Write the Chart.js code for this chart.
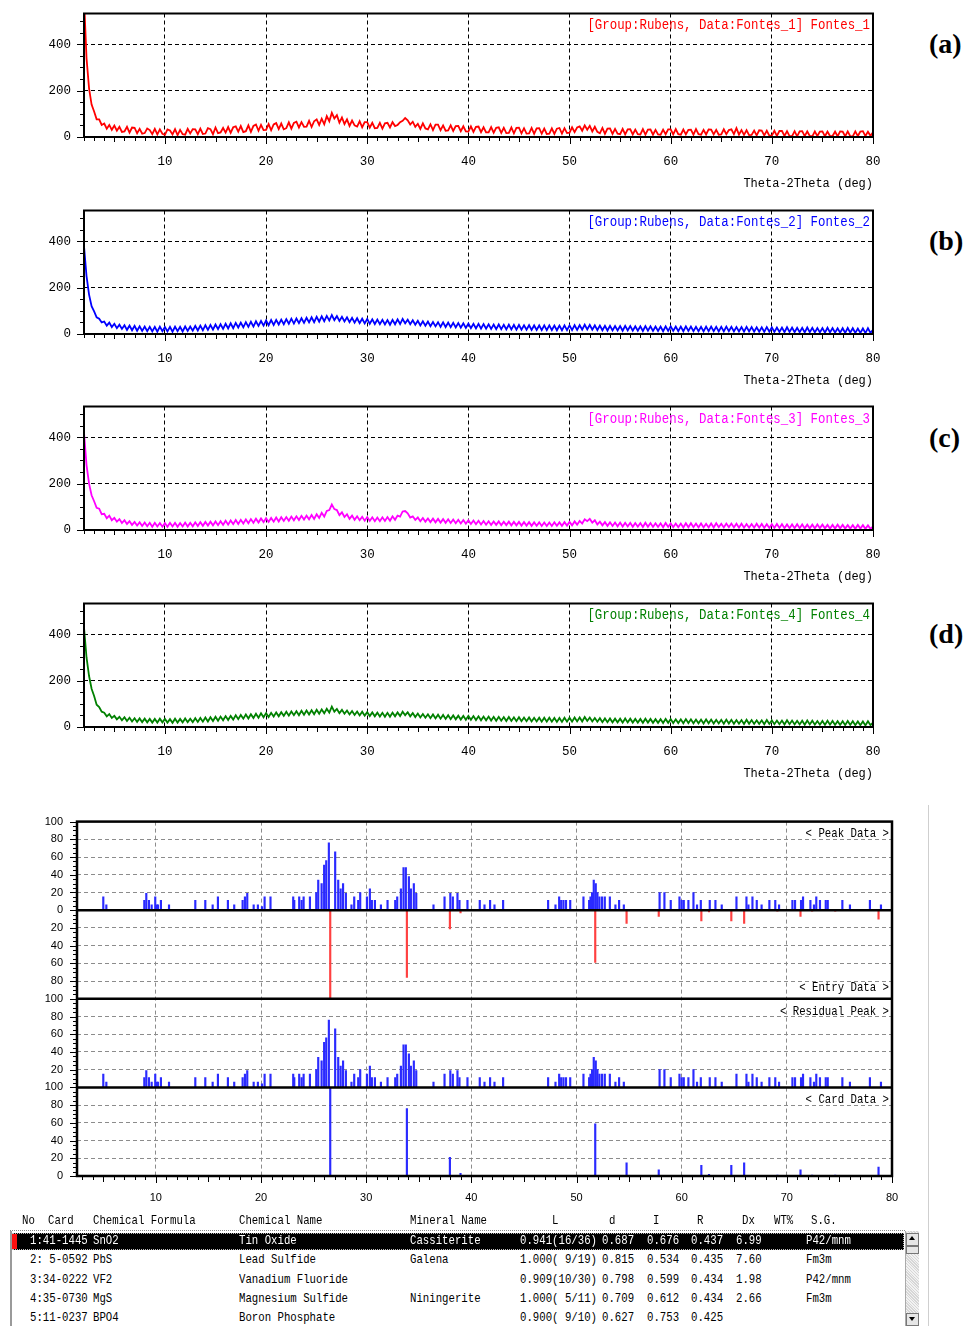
<!DOCTYPE html>
<html><head><meta charset="utf-8">
<script src="https://cdn.jsdelivr.net/npm/chart.js"></script>
<style>
html,body{margin:0;padding:0;background:#fff;}
#root{position:relative;width:966px;height:1326px;overflow:hidden;background:#fff;}
canvas{position:absolute;left:0;}
.lg{position:absolute;right:96px;font:12.4px "Liberation Mono",monospace;white-space:pre;line-height:14px;transform:scaleY(1.15);transform-origin:0 50%;}
.pl{position:absolute;left:929px;font:bold 28px "Liberation Serif",serif;line-height:32px;color:#000;}
.sl{position:absolute;right:77px;font:10.7px "Liberation Mono",monospace;white-space:pre;line-height:13px;color:#000;transform:scaleY(1.2);transform-origin:0 50%;}
.t{position:absolute;font:10.7px "Liberation Mono",monospace;white-space:pre;line-height:13px;color:#000;transform:scaleY(1.25);transform-origin:0 0;}
</style></head>
<body><div id="root">
<canvas id="pa" width="900" height="202" style="top:-7px"></canvas>
<canvas id="pb" width="900" height="202" style="top:190px"></canvas>
<canvas id="pc" width="900" height="202" style="top:386px"></canvas>
<canvas id="pd" width="900" height="202" style="top:583px"></canvas>
<canvas id="ps" width="930" height="414" style="top:801px"></canvas>
</div>
<script>
// ---------------- DATA ----------------
const xStart = 2, xStep = 0.25; // sampling grid of the scans (deg)
const seriesA = [
600,340,210,140, 110,76,76,52, 58,36,52,31, 49,27,44,22, 24,44,19,41, 40,16,35,14, 17,37,30,12, 35,11,33,14,
9,33,28,11, 34,8,31,12, 10,35,15,34, 33,12,36,13, 15,38,34,12, 41,17,20,39, 19,43,18,42, 46,23,47,21,
25,50,22,48, 54,27,52,30, 31,56,29,54, 60,34,58,33, 38,63,36,61, 66,41,64,44, 45,70,43,68, 76,52,79,55,
90,68,104,80, 94,62,84,56, 76,48,71,50, 45,68,42,64, 64,40,61,38, 39,61,36,59, 61,41,64,47, 52,64,70,82,
72,54,66,44, 57,35,59,37, 33,55,30,53, 53,29,50,27, 28,50,26,47, 48,25,46,24, 23,46,22,44, 45,21,42,20,
20,43,19,40, 42,18,40,17, 18,41,16,39, 40,16,38,15, 16,39,14,37, 38,14,36,13, 14,37,13,36, 39,15,38,17,
19,42,21,41, 46,27,50,31, 48,24,44,22, 16,39,14,36, 37,13,35,14, 12,35,11,33, 34,11,32,12, 11,34,10,32,
33,10,31,11, 10,32,12,33, 33,11,34,12, 10,32,11,31, 32,10,34,12, 10,31,11,33, 32,11,31,10, 11,33,12,30,
33,12,38,10, 30,9,29,8, 9,28,7,29, 28,7,27,6, 6,27,5,26, 26,5,25,4, 4,25,3,24, 25,4,24,5,
3,24,4,23, 24,3,23,4, 4,23,3,24, 23,3,24,4, 3,24,4,23, 25,4,23,5, 20];
const seriesB = [
380,250,170,120, 98,72,66,50, 54,36,49,30, 44,25,40,22, 38,18,36,16, 35,14,33,13, 32,12,31,11, 31,10,32,12,
30,11,31,10, 32,12,31,11, 33,13,32,14, 35,15,36,16, 38,18,39,19, 41,21,42,22, 44,24,46,25, 48,28,49,29,
51,31,53,32, 55,35,56,36, 58,38,60,39, 61,41,62,42, 64,44,66,45, 67,47,68,48, 70,50,72,51, 74,53,76,55,
78,58,82,60, 77,56,74,54, 72,51,70,49, 68,47,66,46, 65,44,63,43, 62,42,61,41, 60,40,61,42, 63,43,65,46,
62,42,59,40, 57,37,55,36, 54,34,52,33, 51,31,50,30, 49,29,48,28, 47,27,46,26, 45,25,44,24, 44,23,43,23,
42,22,41,21, 41,21,40,20, 40,20,39,19, 39,19,38,19, 38,18,37,18, 37,17,37,17, 37,17,36,16, 36,16,37,17,
37,17,38,18, 38,19,40,20, 39,19,37,17, 36,16,35,15, 35,15,34,15, 34,14,35,15, 34,14,33,14, 33,13,34,14,
33,13,32,13, 32,12,33,13, 33,13,32,12, 32,12,33,13, 32,12,31,12, 31,11,32,12, 32,12,31,11, 31,11,32,12,
31,11,30,11, 30,10,31,11, 30,10,29,10, 29,9,30,10, 29,9,28,9, 28,8,29,9, 28,8,27,8, 27,7,28,8,
27,7,26,7, 26,6,27,7, 26,6,25,6, 25,5,26,6, 25,5,24,5, 24,4,25,5, 18];
const seriesC = [
420,280,200,150, 124,96,92,68, 70,51,62,42, 52,36,47,30, 42,26,38,22, 35,19,33,17, 32,16,31,14, 31,15,30,14,
30,14,31,15, 31,14,30,15, 32,15,31,16, 33,17,34,18, 35,19,36,20, 37,21,38,22, 40,23,41,25, 43,26,44,28,
46,29,47,31, 49,32,50,34, 51,35,52,36, 54,37,55,39, 56,40,58,42, 59,43,61,45, 62,46,65,48, 68,52,74,58,
82,86,110,90, 86,64,76,56, 68,48,62,44, 59,42,57,40, 56,39,55,38, 54,38,55,39, 56,40,59,44, 62,58,80,82,
72,54,59,44, 54,38,52,36, 50,34,49,33, 48,32,47,31, 46,30,45,29, 44,28,43,27, 42,26,41,25, 40,24,39,23,
38,22,37,22, 37,21,36,21, 36,20,35,20, 35,19,34,19, 34,18,33,18, 33,17,32,17, 32,17,33,18, 33,18,34,19,
35,20,37,23, 39,28,46,38, 48,32,42,24, 36,20,34,18, 33,17,32,16, 32,15,31,15, 31,14,30,14, 30,13,31,14,
30,13,29,13, 29,12,30,13, 29,12,28,12, 28,11,29,12, 29,12,28,11, 28,11,27,11, 28,11,29,12, 27,11,28,12,
28,11,27,10, 27,10,26,10, 26,10,27,10, 26,9,25,9, 25,9,26,9, 25,8,24,8, 24,8,25,8, 24,7,23,7,
23,7,24,8, 23,7,22,6, 22,6,23,7, 22,6,21,6, 21,5,22,6, 21,5,20,5, 15];
const seriesD = [
430,300,220,165, 134,96,86,66, 62,46,56,39, 48,33,44,29, 42,26,40,24, 38,22,37,21, 36,20,35,19, 35,19,36,20,
35,19,34,18, 36,19,35,20, 37,21,36,21, 38,22,39,23, 41,24,42,26, 44,27,45,29, 47,30,48,32, 51,34,52,36,
54,37,55,39, 57,40,59,42, 60,43,61,45, 63,46,64,48, 66,49,67,51, 68,51,70,53, 71,54,72,55, 74,57,76,59,
79,62,88,66, 78,60,74,57, 71,54,69,52, 67,50,66,49, 64,47,63,46, 62,45,61,44, 61,44,62,46, 63,47,66,51,
64,46,60,43, 58,41,56,40, 55,38,54,37, 53,36,52,35, 51,34,50,33, 49,32,48,31, 48,31,47,30, 46,29,45,29,
45,28,44,27, 44,27,43,26, 43,26,42,25, 42,25,41,25, 41,24,40,24, 40,23,40,23, 40,23,39,22, 39,22,40,23,
40,23,41,24, 41,24,43,26, 41,24,39,23, 38,21,37,21, 37,20,36,20, 36,19,37,20, 36,19,35,19, 35,18,36,19,
35,18,34,18, 34,17,35,18, 34,17,33,17, 33,16,34,17, 33,16,32,16, 32,15,33,16, 32,15,31,15, 31,14,32,15,
31,14,30,14, 30,13,31,14, 30,13,29,13, 29,12,30,13, 29,12,28,12, 28,11,29,12, 28,11,27,11, 27,10,28,11,
27,10,26,10, 26,9,27,10, 26,9,25,9, 25,8,26,9, 25,8,24,8, 24,7,25,8, 19];

const legendTexts = ['[Group:Rubens, Data:Fontes_1] Fontes_1','[Group:Rubens, Data:Fontes_2] Fontes_2',
                     '[Group:Rubens, Data:Fontes_3] Fontes_3','[Group:Rubens, Data:Fontes_4] Fontes_4'];
const panelLetters = ['(a)','(b)','(c)','(d)'];
const xAxisTitle = 'Theta-2Theta (deg)';

// stick pattern: peak data (2theta, relative intensity)
const peakPos = [
5.0,5.29,8.9,9.09,9.34,9.6,9.94,10.1,10.2,10.48,11.25,
13.75,14.7,15.4,15.9,16.85,17.45,18.25,18.47,18.69,19.3,19.7,
20.09,20.34,20.9,
23.06,23.16,23.63,23.86,24.05,24.65,
25.25,25.44,25.76,26.0,26.2,26.45,27.05,
27.34,27.57,27.8,28.07,28.6,28.86,29.24,29.43,
30.07,30.35,30.54,30.83,31.4,
32.03,32.76,32.95,33.3,33.55,33.77,34.06,34.25,34.53,34.76,
36.4,37.45,38.0,38.24,38.68,38.87,39.63,
40.8,41.25,41.78,42.2,43.02,
47.3,48.0,48.35,48.54,48.76,49.0,49.4,
50.66,51.2,51.33,51.48,51.64,51.83,51.99,52.18,52.43,52.69,53.17,53.7,54.05,54.5,
57.9,58.36,58.96,59.79,60.0,60.2,60.64,61.12,61.46,61.82,
62.67,63.21,63.81,
65.21,66.16,66.35,66.73,67.14,67.6,
68.34,68.9,69.26,
70.53,70.78,71.35,71.54,72.24,72.58,72.8,73.15,73.7,73.89,
75.28,76.0,77.9,78.95];
const peakInt = [
15,6,11,19,11,6,15,6,6,11,6,
11,11,6,15,11,6,11,15,19,6,6,
4,15,15,
15,11,15,11,15,15,
20,34,30,51,56,76,66,
34,24,30,19,6,15,11,20,
15,24,11,11,6,
11,11,15,24,48,48,38,24,30,19,
6,15,19,15,19,11,11,
11,6,11,6,11,
11,6,15,11,11,11,11,
15,11,15,20,34,30,20,15,15,15,15,6,11,6,
20,20,11,15,11,11,11,20,6,11,
11,11,6,
15,15,6,15,11,6,
11,11,6,
11,11,11,15,11,6,15,11,11,11,
11,6,11,6];
const residualPos = peakPos.slice();
const residualInt = peakInt.slice();
// card 41-1445 (SnO2) lines
const cardPos = [26.58,33.87,37.96,38.97,51.78,54.76,57.82,61.87,62.6,64.72,65.94,69.1,71.3,72.4,74.6,78.72];
const cardInt = [100,76,21,3,59,15,7,12,2,12,15,1,7,1,1,10];
const stickTags = ['< Peak Data >','< Entry Data >','< Residual Peak >','< Card Data >'];

// table
const tableHead = ['No','Card','Chemical Formula','Chemical Name','Mineral Name','L','d','I','R','Dx','WT%','S.G.'];
const rowCard = ['1:41-1445','2: 5-0592','3:34-0222','4:35-0730','5:11-0237'];
const rowFormula = ['SnO2','PbS','VF2','MgS','BPO4'];
const rowName = ['Tin Oxide','Lead Sulfide','Vanadium Fluoride','Magnesium Sulfide','Boron Phosphate'];
const rowMineral = ['Cassiterite','Galena','','Niningerite',''];
const rowL = ['0.941(16/36)','1.000( 9/19)','0.909(10/30)','1.000( 5/11)','0.900( 9/10)'];
const rowD = ['0.687','0.815','0.798','0.709','0.627'];
const rowI = ['0.676','0.534','0.599','0.612','0.753'];
const rowR = ['0.437','0.435','0.434','0.434','0.425'];
const rowDx = ['6.99','7.60','1.98','2.66',''];
const rowWT = ['','','','',''];
const rowSG = ['P42/mnm','Fm3m','P42/mnm','Fm3m',''];

// ---------------- DRAWING ----------------
const root = document.getElementById('root');
function addDiv(cls, text, css){ const d=document.createElement('div'); if(cls) d.className=cls; d.textContent=text; Object.assign(d.style, css); root.appendChild(d); return d; }

const axisTicks = {
  id:'axisTicks',
  afterDraw(chart, args, o){
    const {ctx, chartArea:a, scales:{x,y}} = chart;
    ctx.save();
    ctx.strokeStyle='#000'; ctx.lineWidth=1;
    ctx.beginPath();
    for(let v=Math.ceil(x.min); v<=x.max; v++){
      const px=Math.round(x.getPixelForValue(v))+0.5;
      const len = v%10===0?o.xMajor:(v%5===0?o.xMid:o.xMinor);
      ctx.moveTo(px,a.bottom); ctx.lineTo(px,a.bottom+len);
    }
    for(let v=0; v<=y.max+1e-9; v+=o.yStep){
      const py=Math.round(y.getPixelForValue(v))+0.5;
      const len = (v % o.yMajorEvery===0)?o.yMajor:o.yMinor;
      ctx.moveTo(a.left-len,py); ctx.lineTo(a.left,py);
    }
    ctx.stroke();
    ctx.lineWidth=o.frame;
    ctx.strokeRect(a.left,a.top,a.right-a.left,a.bottom-a.top);
    if(o.dividers){
      ctx.beginPath();
      o.dividers.forEach(v=>{const py=y.getPixelForValue(v); ctx.moveTo(a.left,py); ctx.lineTo(a.right,py);});
      ctx.stroke();
    }
    ctx.restore();
  }
};

const monoTick = {family:'Liberation Mono', size:12.5};
function makeLine(id, ys, color){
  const pts = ys.map((v,i)=>({x: xStart+i*xStep, y:v}));
  new Chart(document.getElementById(id), {
    type:'line',
    data:{datasets:[{data:pts, borderColor:color, borderWidth:1.8, pointRadius:0, tension:0, fill:false}]},
    options:{
      responsive:false, animation:false, events:[],
      layout:{padding:{left:0,right:27,top:0,bottom:0}},
      plugins:{legend:{display:false}, tooltip:{enabled:false},
        axisTicks:{xMinor:4,xMid:5,xMajor:7,yStep:50,yMajorEvery:200,yMinor:4,yMajor:7,frame:2}},
      scales:{
        x:{type:'linear', min:2, max:80, afterFit(s){s.height=58;},
           ticks:{stepSize:1, autoSkip:false, maxRotation:0, minRotation:0, padding:17, color:'#000', font:monoTick,
                  callback:v=>(v%10===0&&v>2)?String(v):''},
           grid:{drawTicks:false, lineWidth:1,
                 color:c=>{const v=c.tick?c.tick.value:NaN; return (v%10===0&&v>2&&v<80)?'#000':'rgba(0,0,0,0)';}},
           border:{display:false, dash:[4,3]},
           title:{display:true, text:xAxisTitle, align:'end', color:'#000', font:{family:'Liberation Mono', size:12}, padding:{top:0,bottom:4}}},
        y:{type:'linear', min:0, max:533, afterFit(s){s.width=84;},
           ticks:{stepSize:50, padding:13, color:'#000', font:monoTick, callback:v=>(v%200===0)?String(v):''},
           grid:{drawTicks:false, lineWidth:1,
                 color:c=>{const v=c.tick?c.tick.value:NaN; return (v===200||v===400)?'#000':'rgba(0,0,0,0)';}},
           border:{display:false, dash:[4,3]}}
      }
    },
    plugins:[axisTicks]
  });
}
const lineColors = ['#ff0000','#0000ff','#ff00ff','#008000'];
const panelTops = [13,210,407,603];
[['pa',seriesA],['pb',seriesB],['pc',seriesC],['pd',seriesD]].forEach(([id,s],k)=>{
  makeLine(id, s, lineColors[k]);
  addDiv('lg', legendTexts[k], {top:(panelTops[k]+6)+'px', color:lineColors[k]});
  addDiv('pl', panelLetters[k], {top:(panelTops[k]+15)+'px'});
});

// stick chart: four stacked panels mapped onto one 0..400 axis
const PEAK0=300, ENTRY0=300, RES0=100, CARD0=0;
function stickLabel(v){ if(v>=300) return v-300; if(v>200) return 300-v; if(v>100) return v-100; return v; }
const stickCommon = {barThickness:1.5, grouped:false, borderWidth:0};
new Chart(document.getElementById('ps'), {
  type:'bar',
  data:{datasets:[
    Object.assign({data:peakPos.map((p,i)=>({x:p,y:[PEAK0,PEAK0+peakInt[i]]})), backgroundColor:'#2a2aff'}, stickCommon),
    Object.assign({data:cardPos.map((p,i)=>({x:p,y:[ENTRY0-cardInt[i],ENTRY0]})), backgroundColor:'#ff4040'}, stickCommon),
    Object.assign({data:residualPos.map((p,i)=>({x:p,y:[RES0,RES0+residualInt[i]]})), backgroundColor:'#2a2aff'}, stickCommon),
    Object.assign({data:cardPos.map((p,i)=>({x:p,y:[CARD0,CARD0+cardInt[i]]})), backgroundColor:'#2a2aff'}, stickCommon)
  ]},
  options:{
    responsive:false, animation:false, events:[],
    layout:{padding:{left:0,right:38,top:0,bottom:0}},
    plugins:{legend:{display:false}, tooltip:{enabled:false},
      axisTicks:{xMinor:4,xMid:6,xMajor:7,yStep:5,yMajorEvery:20,yMinor:4,yMajor:7,frame:2.5,dividers:[100,200,300]}},
    scales:{
      x:{type:'linear', min:2.5, max:80, offset:false, afterFit(s){s.height=39;},
         ticks:{stepSize:1, autoSkip:false, maxRotation:0, minRotation:0, padding:15, color:'#000',
                font:{family:'Liberation Sans', size:11}, callback:v=>(v%10===0)?String(v):''},
         grid:{offset:false, drawTicks:false, lineWidth:1,
               color:c=>{const v=c.tick?c.tick.value:NaN; return (v%10===0&&v<80)?'#8c8c8c':'rgba(0,0,0,0)';}},
         border:{display:false, dash:[4,3]}},
      y:{type:'linear', min:0, max:400, afterFit(s){s.width=77;},
         ticks:{stepSize:20, padding:14, color:'#000', font:{family:'Liberation Sans', size:11}, callback:v=>String(stickLabel(v))},
         grid:{drawTicks:false, lineWidth:1,
               color:c=>{const v=c.tick?c.tick.value:NaN; return (v%100===0)?'rgba(0,0,0,0)':'#8c8c8c';}},
         border:{display:false, dash:[4,3]}}
    }
  },
  plugins:[axisTicks]
});
const tagY = [827,981,1005,1094];
stickTags.forEach((t,k)=>addDiv('sl', t, {top:tagY[k]+'px'}));

// window edge line
addDiv('', '', {position:'absolute', left:'928px', top:'805px', width:'1px', height:'521px', background:'#cfcfcf'});

// table
const headX = [22,48,93,239,410,552,609,653,697,742,774,811];
tableHead.forEach((h,k)=>addDiv('t', h, {left:headX[k]+'px', top:'1213px'}));
addDiv('', '', {position:'absolute', left:'10px', top:'1230px', width:'895px', height:'0px', borderTop:'1px dotted #888'});
addDiv('', '', {position:'absolute', left:'10px', top:'1231px', width:'2px', height:'95px', background:'#9a9a9a'});
addDiv('', '', {position:'absolute', left:'12px', top:'1233px', width:'892px', height:'17px', background:'#000'});
addDiv('', '', {position:'absolute', left:'12px', top:'1233px', width:'890px', height:'15px', border:'1px dotted #bbb'});
addDiv('', '', {position:'absolute', left:'12px', top:'1234px', width:'5px', height:'15px', background:'#ff1010'});
// scrollbar
addDiv('', '', {position:'absolute', left:'905px', top:'1231px', width:'13px', height:'95px', background:'repeating-linear-gradient(45deg,#d6d6d6 0 1px,#f2f2f2 1px 2px)', borderLeft:'1px solid #aaa'});
addDiv('', '', {position:'absolute', left:'906px', top:'1233px', width:'11px', height:'11px', background:'#e6e6e6', border:'1px solid #777'});
addDiv('', '', {position:'absolute', left:'906px', top:'1246px', width:'11px', height:'6px', background:'#e6e6e6', border:'1px solid #777'});
addDiv('', '', {position:'absolute', left:'906px', top:'1313px', width:'11px', height:'11px', background:'#e6e6e6', border:'1px solid #777'});
addDiv('', '', {position:'absolute', left:'909px', top:'1236px', width:'0', height:'0', borderLeft:'3px solid transparent', borderRight:'3px solid transparent', borderBottom:'4px solid #000'});
addDiv('', '', {position:'absolute', left:'909px', top:'1317px', width:'0', height:'0', borderLeft:'3px solid transparent', borderRight:'3px solid transparent', borderTop:'4px solid #000'});

const colX = [30,93,239,410,520,602,647,691,736,774,806];
const rowTop = [1233,1252,1272,1291,1310];
const cols = [rowCard,rowFormula,rowName,rowMineral,rowL,rowD,rowI,rowR,rowDx,rowWT,rowSG];
rowCard.forEach((_,r)=>{
  cols.forEach((col,k)=>{ if(col[r]) addDiv('t', col[r], {left:colX[k]+'px', top:rowTop[r]+'px', color: r===0?'#fff':'#000'}); });
});
</script>
</body></html>
